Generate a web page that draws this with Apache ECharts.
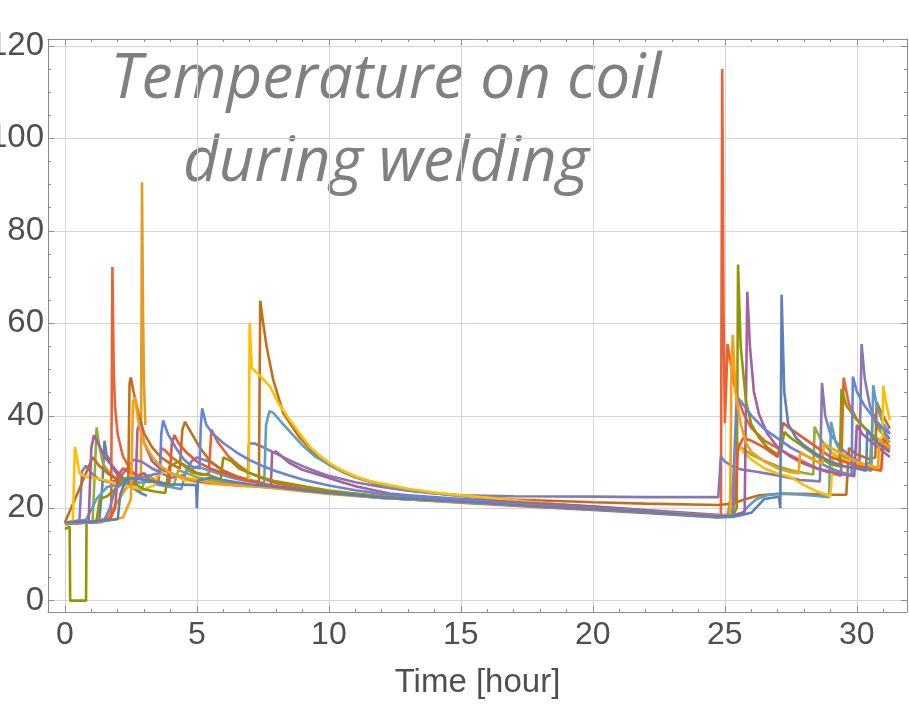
<!DOCTYPE html>
<html>
<head>
<meta charset="utf-8">
<script src="https://cdn.jsdelivr.net/npm/echarts@6/dist/echarts.min.js"></script>
<style>
html, body { margin: 0; padding: 0; background: #fff; }
#chart { width: 909px; height: 706px; }
</style>
</head>
<body>
<div id="chart"></div>
<script>
// time [hour], temperature per coil
const coilA = [[0,16.7],[0.6,16.8],[1.3,17.1],[1.42,25],[1.5,34.6],[1.58,31.5],[1.7,30.5],[1.8,28.8],[2.0,27.2],[2.3,25.6],[2.6,24.3],[2.9,23.2],[3.1,22.7]];
const coilB = [[0,16.8],[1.0,17.1],[1.6,17.8],[1.95,21],[2.3,24.2],[2.6,25.8],[2.88,26.5],[2.92,90.5],[2.96,62],[3.0,46],[3.05,38]];
const coilC = [[0,16.5],[0.5,16.7],[1.05,17.2],[1.15,30],[1.2,37.5],[1.3,33.5],[1.45,29.5],[1.7,27.5],[2.0,26.2],[2.3,25.2],[2.6,24.4],[2.9,23.9],[3.1,27.2],[3.4,26.2],[3.8,25.2],[4.1,24.6],[4.3,28.2],[4.6,27.6],[5.0,26.7],[5.5,26.1],[6.0,25.6],[6.5,25.3],[7.0,25.0],[8.0,24.5],[9.0,23.8],[10,23.2],[12,22.2],[15,21.3],[18,20.4],[20,19.8],[22,19.1],[24.7,18.2],[25.1,18.3],[25.3,25],[25.4,32],[25.6,33.2],[26.0,31.6],[26.5,30.2],[27.0,29.1],[27.5,28.2],[28.0,27.6],[28.35,27.3],[28.4,37.6],[28.6,35.2],[29.0,32.2],[29.5,30.3],[30.0,29.2],[30.5,29.8],[30.6,40],[30.8,37.2],[31.25,34.2]];
const coilD = [[0,16.9],[0.8,17.0],[1.5,17.4],[1.75,18],[1.8,72.2],[1.85,50],[1.9,42],[2.0,36],[2.2,31.2],[2.5,28.2],[2.8,26.6],[3.2,25.6],[3.55,26],[3.65,33],[3.8,32.5],[4.0,31.2],[4.5,29.2],[4.8,27.8],[5.2,27.2],[5.45,27.5],[5.55,37],[5.8,34.2],[6.2,31.2],[6.6,29.2],[7.0,27.6],[7.5,26.4],[8.0,25.4],[9.0,24.3],[10,23.6],[12,22.6],[15,21.6],[18,20.6],[20,20.0],[22,19.3],[24.6,18.5],[24.85,18.6],[24.9,115],[24.95,62],[25.0,38.4],[25.05,46],[25.1,55.5],[25.2,52],[25.4,45.5],[25.7,40.5],[26.0,37.4],[26.5,34.6],[27.0,33],[27.5,31.4],[28.0,30],[28.5,28.6],[29.0,27.6],[29.4,27],[29.5,48.2],[29.7,42.5],[30.0,39.2],[30.5,36.2],[31.0,33.6],[31.25,32.6]];
const coilE = [[0,16.8],[0.55,17.4],[0.65,28],[0.8,29.2],[1.0,27.6],[1.3,26.2],[1.7,25.6],[2.0,26.1],[2.3,28.2],[2.6,30.5],[2.9,30.1],[3.3,28.6],[3.7,27.5],[4.0,26.6],[4.5,27.1],[4.8,30.2],[5.0,31],[5.5,30],[6.0,28.1],[6.5,26.8],[6.93,26],[6.97,34],[7.2,34],[7.5,33.2],[8.0,31.8],[8.5,30.4],[9.0,29.1],[9.5,28],[10,27],[11,25.6],[12,24.6],[13,23.8],[14,23.2],[15,22.8],[17,22.6],[20,22.5],[22,22.4],[24.75,22.4],[24.85,31.2],[25.0,30.1],[25.3,29],[25.6,28.4],[26.2,27.9],[27.0,27.1],[27.84,26.1],[28.6,25.8],[28.68,47.1],[28.8,40],[29.0,36],[29.4,33],[29.8,31],[30.1,30],[30.18,55.5],[30.3,48],[30.5,42],[30.8,38],[31.25,35]];
const coilF = [[0,16.9],[0.5,23.5],[1.05,31],[1.3,29.2],[1.7,27.2],[2.0,26.2],[2.4,25.6],[2.45,47],[2.5,48.3],[2.6,45.2],[2.8,40.2],[3.0,36.2],[3.3,33.2],[3.6,31.2],[4.0,29.6],[4.35,28.6],[4.45,37],[4.55,38.7],[4.8,36.2],[5.1,33.2],[5.5,30.2],[6.0,28.1],[6.5,26.9],[7.0,26.1],[7.35,25.7],[7.4,64.9],[7.5,60.5],[7.64,55],[7.89,47.8],[8.27,40.6],[8.9,35.2],[9.5,31.6],[10,29.4],[10.5,27.9],[11,26.7],[12,24.9],[13,23.9],[15,22.7],[17,21.9],[20,21.3],[22,21.0],[24.75,20.7],[25.3,21],[25.8,22],[26.3,22.8],[27,23.1],[28,23.1],[28.9,22.9],[29.6,22.9],[29.7,33],[30.0,31.6],[30.5,30.6],[30.7,31],[30.75,43],[30.9,41],[31.25,37.2]];
const coilG = [[0,16.8],[0.8,17.5],[1.2,22],[1.6,24.6],[2.0,25.1],[2.5,25.5],[3.0,25.6],[3.3,25.9],[3.5,25.1],[4.0,24.6],[4.4,24.1],[4.6,28],[5.0,29],[5.5,28.1],[6.0,27.1],[6.5,26.3],[7.0,25.8],[7.55,25.5],[7.62,38],[7.75,41],[7.9,40.6],[8.2,38.6],[8.6,36.1],[9.0,33.6],[9.5,31.1],[10,29.5],[10.5,28],[11,26.8],[12,25],[13,23.9],[15,22.6],[18,21.1],[20,20.3],[22,19.5],[24.7,18.2],[25.3,18.1],[25.6,18.5],[25.9,20.5],[26.2,22],[26.6,22.8],[27.2,23.2],[27.8,23],[28.4,22.7],[28.95,22.4],[29.02,38.7],[29.2,34.2],[29.5,31.2],[29.8,29.6],[30.2,28.6],[30.55,28.1],[30.62,46.6],[30.75,42.2],[31.0,38.2],[31.25,36.2]];
const coilH = [[0,16.8],[0.3,17.3],[0.38,33.3],[0.45,31.2],[0.55,27.6],[0.8,26.8],[1.2,26.5],[1.6,26],[2.0,25.1],[2.5,24.6],[3.0,24.1],[3.4,25],[3.5,27],[3.8,28.1],[4.2,27.1],[4.5,26.1],[5.0,25.6],[5.5,25.3],[6.0,25.1],[6.5,24.9],[6.96,24.7],[7.0,60.1],[7.08,50.3],[7.4,48.6],[7.77,46.3],[8.1,42.6],[8.52,39.1],[8.9,36.1],[9.28,33.3],[9.6,31.6],[10.04,29.7],[10.5,28.2],[11.05,26.8],[11.6,25.8],[12.3,25],[13,24.2],[14,23.4],[15,22.8],[16,22.3],[18,21.2],[20,20.1],[22,19.2],[24.7,18.1],[25.2,18.2],[25.35,19],[25.4,34.8],[25.7,32.1],[26.0,30.6],[26.5,28.6],[27.0,27.5],[27.5,26.7],[28.0,25],[28.5,23.6],[29.0,22.6],[29.1,32],[29.5,30.6],[30.0,29.6],[30.5,29.1],[30.95,28.8],[31.0,46.5],[31.1,43],[31.25,39]];
const coilI = [[0,16.9],[0.9,17.3],[1.0,33],[1.1,35.8],[1.25,34.1],[1.5,31.1],[1.8,29.1],[2.1,27.1],[2.4,25.6],[2.68,25],[2.75,37],[2.85,38.6],[3.0,34.2],[3.3,30.2],[3.6,28.6],[4.0,27.6],[4.5,26.6],[5.0,25.9],[5.5,25.5],[6.0,25.3],[6.5,25.0],[7.0,24.8],[7.8,24.5],[7.85,32],[8.0,32.3],[8.5,29.8],[9.0,28.3],[9.8,26.9],[10.5,25.6],[11.05,24.7],[12.3,23.2],[13,22.8],[15,22.0],[18,21.0],[20,20.4],[22,19.6],[24.7,18.6],[25.3,18.5],[25.75,19.2],[25.85,66.8],[25.95,55],[26.1,45.2],[26.3,40.2],[26.6,36.2],[27.0,33.2],[27.5,31.1],[28.0,29.6],[28.5,28.6],[29.0,27.9],[29.5,27.3],[29.9,26.9],[30.0,38],[30.2,36.1],[30.6,34.1],[31.25,31.1]];
const coilJ = [[0,15.5],[0.18,16],[0.2,0],[0.8,0],[0.82,16.8],[1.2,17.3],[1.32,22],[1.6,22.6],[1.9,24.1],[2.1,26.1],[2.4,26.6],[2.7,25.1],[3.0,24.1],[3.4,23.6],[3.8,23.3],[3.95,29],[4.3,30.1],[4.6,29.1],[5.0,27.6],[5.5,27.1],[5.9,26.2],[6.0,31],[6.3,30.2],[6.6,28.6],[7.0,27.6],[7.5,26.6],[8.0,25.8],[9.0,24.8],[10,23.8],[12,22.5],[15,21.5],[18,20.5],[20,19.9],[22,19.2],[24.7,18.3],[25.3,18.4],[25.45,20],[25.5,72.7],[25.6,55],[25.8,43.2],[26.0,38.2],[26.3,35.2],[26.6,33.2],[27.0,31.6],[27.15,33],[27.25,36.5],[27.5,35.2],[28.0,33.2],[28.5,31.2],[29.0,29.6],[29.35,29],[29.42,45.8],[29.6,42.2],[30.0,39.1],[30.5,36.2],[31.0,34.1],[31.25,33.1]];
const coilK = [[0,16.8],[1.2,17.0],[1.7,17.5],[1.9,20],[2.0,27],[2.2,28.6],[2.5,27.6],[2.8,27.1],[3.0,27.6],[3.2,26.1],[3.5,25.6],[3.95,25.1],[4.05,34],[4.15,35.8],[4.3,34.1],[4.6,32.1],[5.0,30.1],[5.5,28.6],[6.0,27.6],[6.5,26.6],[7.0,25.9],[7.5,25.3],[8.0,24.8],[9.0,24.0],[10,23.3],[12,22.3],[15,21.2],[18,20.2],[20,19.6],[22,19.0],[24.7,18.0],[25.2,18.1],[25.4,22],[25.5,33],[25.7,35.2],[26.0,34.6],[26.5,33.1],[27.0,31.1],[27.1,34],[27.2,38.5],[27.5,37.1],[28.0,35.1],[28.5,33.1],[29.0,31.1],[29.5,30.1],[30.0,29.2],[30.5,28.6],[30.92,28.1],[31.0,35],[31.25,33.2]];
const coilL = [[0,16.7],[1.4,17.0],[1.5,17.5],[1.7,20],[1.9,24],[2.2,25.6],[2.5,26.1],[2.8,26.6],[3.2,27.1],[3.6,27.6],[3.65,36],[3.72,39],[3.9,36.1],[4.2,33.1],[4.5,30.6],[4.8,29.1],[5.1,28.6],[5.15,38],[5.2,41.6],[5.35,38.1],[5.6,36.1],[6.0,34.1],[6.5,32.1],[7.0,30.4],[7.5,29.1],[8.0,28.0],[8.5,27.1],[9.0,26.2],[10,24.9],[11,23.9],[12,23.1],[15,21.8],[18,20.5],[20,19.8],[22,19.1],[24.7,18.1],[25.3,18.2],[25.35,30],[25.45,44],[25.6,43.2],[26.0,40.1],[26.5,37.1],[27.0,35.1],[27.5,33.1],[28.0,31.6],[28.5,30.1],[29.0,28.6],[29.5,27.6],[29.8,27.2],[29.85,48.5],[30.0,45.2],[30.3,42.1],[30.7,39.1],[31.0,37.2],[31.25,36.1]];
const coilM = [[0,16.8],[1.5,17.2],[2.2,18],[2.5,22],[2.58,43],[2.65,44],[2.8,38.2],[3.0,34.2],[3.3,31.2],[3.6,29.2],[4.0,27.6],[4.5,26.6],[5.0,26.1],[5.5,25.6],[6.0,25.2],[7.0,24.8],[8.0,24.3],[9.0,23.7],[10,23.1],[12,22.2],[15,21.3],[18,20.4],[20,19.8],[22,19.2],[24.7,18.4],[25.2,18.5],[25.25,50],[25.3,57.5],[25.4,45.2],[25.6,38.2],[25.8,34.2],[26.0,32.2],[26.5,30.1],[27.0,28.6],[27.5,27.8],[27.8,27.6],[27.85,32],[28.0,31.6],[28.5,30.1],[28.7,29.6],[28.75,34],[29.0,33.1],[29.5,31.6],[30.0,30.1],[30.5,29.1],[30.8,28.6],[30.85,35],[31.0,34.1],[31.25,33.1]];
const coilN = [[0,16.9],[1.0,17.1],[2.0,17.6],[2.1,23],[2.3,26.1],[2.6,26.6],[3.0,26.1],[3.5,25.6],[4.0,25.2],[4.5,25.1],[4.97,25],[5.0,20],[5.04,26],[5.5,26.6],[6.0,26.1],[6.5,25.6],[7.0,25.2],[8.0,24.6],[9.0,23.9],[10,23.3],[12,22.3],[15,21.4],[18,20.4],[20,19.8],[22,19.2],[24.7,18.3],[25.5,18.4],[26.0,19],[26.5,22],[27.05,22.5],[27.1,20],[27.15,66.2],[27.25,45.2],[27.4,38.2],[27.7,35.2],[28.0,33.6],[28.5,31.6],[29.0,30.1],[29.5,29.1],[30.0,28.6],[30.35,28.1],[30.4,37],[30.6,35.1],[31.0,33.1],[31.25,32.1]];

const coils = [coilA, coilB, coilC, coilD, coilE, coilF, coilG, coilH, coilI, coilJ, coilK, coilL, coilM, coilN];
const coilColors = ['#5E81B5', '#E19C24', '#8FB032', '#EB6235', '#8778B3', '#C56E1A', '#5D9EC7', '#FFBF00', '#A5609D', '#929600', '#E95536', '#6685D9', '#F89F13', '#5E81B5'];

const frameColor = '#8c8c8c';
const labelFont = 'Liberation Sans';
const labelColor = '#4f4f4f';

const chart = echarts.init(document.getElementById('chart'));

//边框坐标轴
function frameAxis(extra) {
    return Object.assign({
        type: 'value',
        axisLine: { show: true, onZero: false, lineStyle: { color: frameColor, width: 1 } },
        axisTick: { show: true, inside: true, length: 6, lineStyle: { color: frameColor } },
        minorTick: { show: true, length: 3, lineStyle: { color: frameColor } },
        splitLine: { show: false },
        axisLabel: { show: false }
    }, extra);
}

const option = {
    animation: false,
    backgroundColor: '#ffffff',
    grid: { left: 48, right: 2, top: 39, bottom: 94, containLabel: false, outerBoundsMode: 'none' },
    xAxis: [
        frameAxis({
            position: 'bottom', min: -0.64, max: 31.9, splitNumber: 6,
            minorTick: { show: true, splitNumber: 5, length: 3, lineStyle: { color: frameColor } },
            splitLine: { show: true, lineStyle: { color: '#d4d4d4', width: 1 } },
            axisLabel: { show: true, showMinLabel: false, showMaxLabel: false, margin: 7, fontSize: 32, fontFamily: labelFont, color: labelColor },
            name: 'Time [hour]', nameLocation: 'middle', nameGap: 54,
            nameTextStyle: { fontSize: 33, fontFamily: labelFont, color: labelColor }
        }),
        frameAxis({
            position: 'top', min: -0.64, max: 31.9, splitNumber: 6,
            minorTick: { show: true, splitNumber: 5, length: 3, lineStyle: { color: frameColor } }
        })
    ],
    yAxis: [
        frameAxis({
            position: 'left', min: -2.45, max: 121.5, splitNumber: 6,
            minorTick: { show: true, splitNumber: 4, length: 3, lineStyle: { color: frameColor } },
            splitLine: { show: true, lineStyle: { color: '#d4d4d4', width: 1 } },
            axisLabel: { show: true, showMinLabel: false, showMaxLabel: false, margin: 4, fontSize: 33, fontFamily: labelFont, color: labelColor }
        }),
        frameAxis({
            position: 'right', min: -2.45, max: 121.5, splitNumber: 6,
            minorTick: { show: true, splitNumber: 4, length: 3, lineStyle: { color: frameColor } }
        })
    ],
    graphic: [
        { type: 'text', x: 386, y: 80, style: { text: 'Temperature on coil', fontSize: 62, fontStyle: 'italic', fontFamily: 'Open Sans', fill: '#808080', align: 'center', verticalAlign: 'middle' } },
        { type: 'text', x: 386, y: 163, style: { text: 'during welding', fontSize: 62, fontStyle: 'italic', fontFamily: 'Open Sans', fill: '#808080', align: 'center', verticalAlign: 'middle' } }
    ],
    series: coils.map(function (data, i) {
        return {
            type: 'line',
            data: data,
            xAxisIndex: 0,
            yAxisIndex: 0,
            showSymbol: false,
            clip: true,
            lineStyle: { color: coilColors[i], width: 2.6 },
            itemStyle: { color: coilColors[i] }
        };
    })
};

chart.setOption(option);
</script>
</body>
</html>
